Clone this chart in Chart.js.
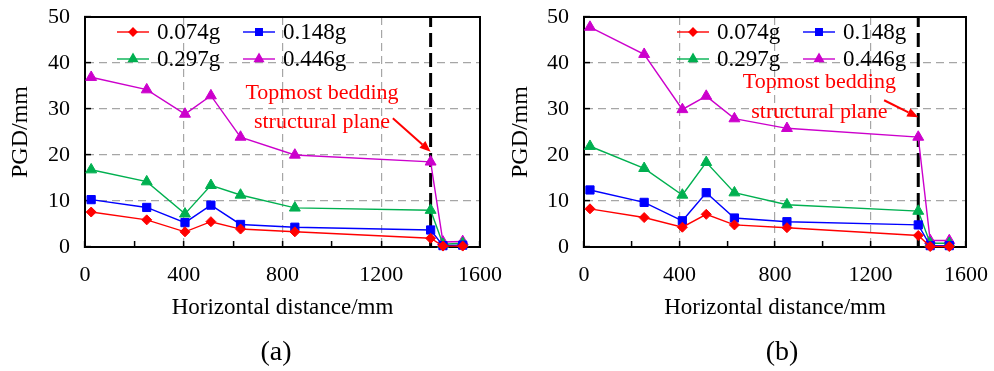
<!DOCTYPE html>
<html>
<head>
<meta charset="utf-8">
<script src="https://cdn.jsdelivr.net/npm/chart.js@4.4.0/dist/chart.umd.min.js"></script>
<style>
  html, body { margin: 0; padding: 0; background: #fff; }
  #wrap { position: relative; width: 994px; height: 371px; overflow: hidden; }
  canvas { position: absolute; top: 0; }
  #chartA { left: 0; }
  #chartB { left: 497px; }
</style>
</head>
<body>
<div id="wrap">
  <canvas id="chartA" width="520" height="371"></canvas>
  <canvas id="chartB" width="497" height="371"></canvas>
</div>
<script>
// horizontal distance of the monitoring points (mm)
const distanceA = [25, 250, 405, 510, 630, 850, 1400, 1450, 1530];
const distanceB = [25, 252, 412, 512, 630, 850, 1400, 1450, 1530];

// PGD (mm), panel (a)
const a074 = [7.6, 5.9, 3.3, 5.5, 3.9, 3.3, 1.9, 0.2, 0.2];
const a148 = [10.3, 8.6, 5.3, 9.1, 4.9, 4.3, 3.7, 0.3, 0.4];
const a297 = [16.8, 14.2, 7.2, 13.4, 11.3, 8.5, 8.0, 0.6, 0.8];
const a446 = [36.9, 34.2, 28.9, 32.9, 23.9, 20.0, 18.5, 1.1, 1.2];

// PGD (mm), panel (b)
const b074 = [8.3, 6.4, 4.3, 7.1, 4.8, 4.2, 2.5, 0.1, 0.1];
const b148 = [12.4, 9.7, 5.7, 11.8, 6.3, 5.5, 4.8, 0.3, 0.3];
const b297 = [21.9, 17.1, 11.3, 18.4, 11.8, 9.2, 7.8, 0.8, 0.8];
const b446 = [47.8, 41.9, 29.9, 32.8, 27.9, 25.8, 23.9, 1.4, 1.4];

const seriesNames = ['0.074g', '0.148g', '0.297g', '0.446g'];
const planeX = 1400;          // topmost bedding structural plane
const xTicks = [0, 400, 800, 1200, 1600];
const yTicks = [0, 10, 20, 30, 40, 50];

// styles
const serif = "'Liberation Serif', 'Times New Roman', serif";
const colors = ['#ff0000', '#0000ff', '#00b050', '#cc00cc'];
const markers = ['rectRot', 'rect', 'triangle', 'triangle'];
const markerSize = [5, 5.8, 6.3, 6.3];
const gridGray = '#a6a6a6';

const frame = {
  id: 'frame',
  beforeDatasetsDraw(chart) {
    const { ctx, chartArea: a } = chart;
    ctx.save();
    ctx.strokeStyle = '#000';
    ctx.lineWidth = 2;
    ctx.strokeRect(a.left, a.top, a.right - a.left, a.bottom - a.top);
    ctx.restore();
  }
};

const seriesLegend = {
  id: 'seriesLegend',
  afterDraw(chart, args, opts) {
    const ctx = chart.ctx;
    const sets = chart.data.datasets.filter(d => seriesNames.includes(d.label));
    sets.forEach((ds, i) => {
      const lx = opts.x + (i % 2) * opts.colGap;
      const ly = opts.y + Math.floor(i / 2) * opts.rowGap;
      ctx.save();
      ctx.strokeStyle = ds.borderColor;
      ctx.lineWidth = ds.borderWidth;
      ctx.beginPath();
      ctx.moveTo(lx, ly);
      ctx.lineTo(lx + opts.lineLen, ly);
      ctx.stroke();
      ctx.fillStyle = ds.backgroundColor;
      Chart.helpers.drawPoint(ctx, {
        pointStyle: ds.pointStyle, radius: ds.pointRadius * 0.8, borderWidth: 1, rotation: 0
      }, lx + opts.lineLen / 2, ly);
      ctx.fillStyle = '#000';
      ctx.font = '23px ' + serif;
      ctx.textAlign = 'left';
      ctx.textBaseline = 'middle';
      ctx.fillText(ds.label, lx + opts.textGap, ly + 1);
      ctx.restore();
    });
  }
};

const planeNote = {
  id: 'planeNote',
  afterDatasetsDraw(chart, args, opts) {
    const { ctx, scales: { x, y } } = chart;
    ctx.save();
    ctx.fillStyle = '#ff0000';
    ctx.strokeStyle = '#ff0000';
    ctx.font = '22px ' + serif;
    ctx.textAlign = 'center';
    ctx.textBaseline = 'middle';
    const tx = x.getPixelForValue(opts.textAt[0]);
    const ty = y.getPixelForValue(opts.textAt[1]);
    opts.lines.forEach((t, i) => ctx.fillText(t, tx, ty + i * opts.lineGap));

    // arrow pointing at the plane
    const x1 = x.getPixelForValue(opts.from[0]), y1 = y.getPixelForValue(opts.from[1]);
    const x2 = x.getPixelForValue(opts.to[0]), y2 = y.getPixelForValue(opts.to[1]);
    const ang = Math.atan2(y2 - y1, x2 - x1);
    const head = 11, half = 4.5;
    const bx = x2 - head * Math.cos(ang), by = y2 - head * Math.sin(ang);
    ctx.lineWidth = 2;
    ctx.beginPath();
    ctx.moveTo(x1, y1);
    ctx.lineTo(bx, by);
    ctx.stroke();
    ctx.beginPath();
    ctx.moveTo(x2, y2);
    ctx.lineTo(bx + half * Math.sin(ang), by - half * Math.cos(ang));
    ctx.lineTo(bx - half * Math.sin(ang), by + half * Math.cos(ang));
    ctx.closePath();
    ctx.fill();
    ctx.restore();
  }
};

const panelLabel = {
  id: 'panelLabel',
  afterDraw(chart, args, opts) {
    const ctx = chart.ctx;
    ctx.save();
    ctx.fillStyle = '#000';
    ctx.font = '28px ' + serif;
    ctx.textAlign = 'center';
    ctx.textBaseline = 'middle';
    ctx.fillText(opts.text, opts.x, opts.y);
    ctx.restore();
  }
};

function buildDatasets(xs, groups) {
  const sets = groups.map((vals, i) => ({
    label: seriesNames[i],
    data: vals.map((v, j) => ({ x: xs[j], y: v })),
    borderColor: colors[i],
    backgroundColor: colors[i],
    borderWidth: 1.4,
    pointStyle: markers[i],
    pointRadius: markerSize[i],
    pointBorderWidth: 1,
    tension: 0,
    clip: false,
    order: 1
  }));
  sets.push({
    label: 'plane',
    data: [{ x: planeX, y: yTicks[0] }, { x: planeX, y: yTicks[yTicks.length - 1] }],
    borderColor: '#000',
    borderWidth: 3,
    borderDash: [14, 6],
    pointRadius: 0,
    clip: false,
    order: 10
  });
  return sets;
}

function makeChart(id, xs, groups, cfg) {
  return new Chart(document.getElementById(id), {
    type: 'line',
    data: { datasets: buildDatasets(xs, groups) },
    options: {
      responsive: false,
      animation: false,
      devicePixelRatio: 1,
      layout: { padding: { top: 17, right: cfg.padRight, left: 0, bottom: 0 } },
      plugins: {
        legend: { display: false },
        tooltip: { enabled: false },
        seriesLegend: { x: cfg.legendX, y: 32, colGap: 126, rowGap: 27, lineLen: 32, textGap: 40 },
        planeNote: cfg.note,
        panelLabel: cfg.label
      },
      scales: {
        x: {
          type: 'linear', min: 0, max: 1600,
          ticks: {
            stepSize: 200, autoSkip: false, maxRotation: 0, padding: 21, color: '#000',
            font: { family: serif, size: 22 },
            callback: v => xTicks.includes(v) ? String(v) : ''
          },
          grid: {
            color: c => (c.tick && xTicks.includes(c.tick.value) && c.tick.value > 0 && c.tick.value < 1600) ? gridGray : 'rgba(0,0,0,0)',
            lineWidth: 1.2, tickLength: -6, tickColor: '#000', tickWidth: 1.5
          },
          border: { color: '#000', width: 2, dash: [8, 5] },
          title: {
            display: true, text: 'Horizontal distance/mm', color: '#000',
            font: { family: serif, size: 23 }, padding: { top: 0, bottom: 49 }
          },
          afterFit: s => { s.height = 124; s.paddingLeft = 0; s.paddingRight = 0; }
        },
        y: {
          min: 0, max: 50,
          ticks: { stepSize: 10, padding: 21, color: '#000', font: { family: serif, size: 22 } },
          grid: {
            color: c => (c.tick && c.tick.value > 0 && c.tick.value < 50) ? gridGray : 'rgba(0,0,0,0)',
            lineWidth: 1.2, tickLength: -6, tickColor: '#000', tickWidth: 1.5
          },
          border: { color: '#000', width: 2, dash: [8, 5] },
          title: {
            display: true, text: 'PGD/mm', color: '#000',
            font: { family: serif, size: 24 }, padding: { top: cfg.yTitlePad, bottom: 0 }
          },
          afterFit: s => { s.width = cfg.yWidth; s.paddingTop = 0; s.paddingBottom = 0; }
        }
      }
    },
    plugins: [frame, seriesLegend, planeNote, panelLabel]
  });
}

makeChart('chartA', distanceA, [a074, a148, a297, a446], {
  padRight: 40, yWidth: 85, yTitlePad: 6, legendX: 117,
  note: { lines: ['Topmost bedding', 'structural plane'], textAt: [960, 33.5], lineGap: 29, from: [1247, 28.0], to: [1400, 20.7] },
  label: { text: '(a)', x: 276, y: 353 }
});

makeChart('chartB', distanceB, [b074, b148, b297, b446], {
  padRight: 28, yWidth: 87, yTitlePad: 9, legendX: 180,
  note: { lines: ['Topmost bedding', 'structural plane'], textAt: [986, 35.8], lineGap: 30, from: [1257, 31.9], to: [1400, 28.2] },
  label: { text: '(b)', x: 285, y: 353 }
});
</script>
</body>
</html>
